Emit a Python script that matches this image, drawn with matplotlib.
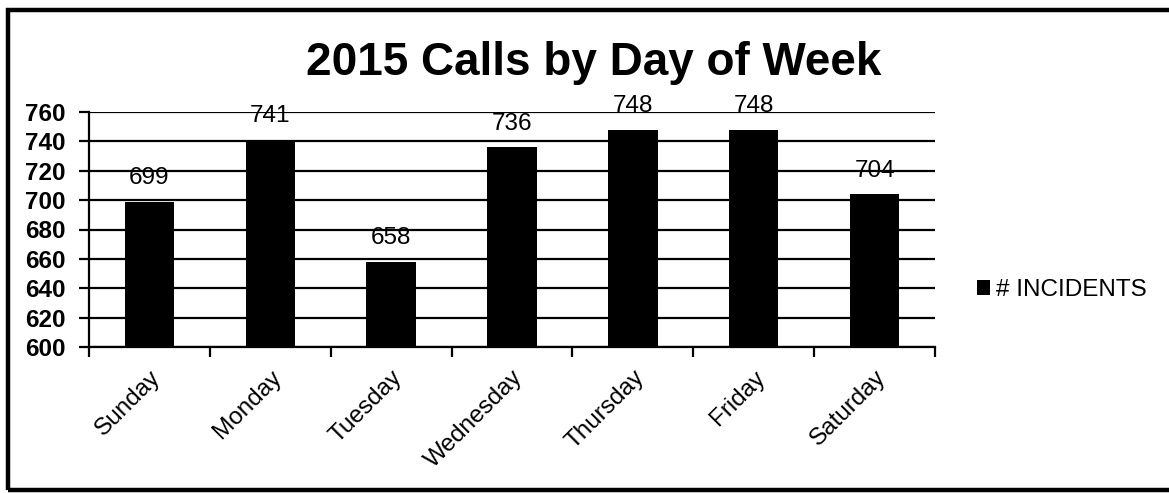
import matplotlib
matplotlib.use("Agg")
import matplotlib.pyplot as plt
from matplotlib.patches import Rectangle, Patch
import numpy as np

days = ["Sunday", "Monday", "Tuesday", "Wednesday", "Thursday", "Friday", "Saturday"]
incidents = [699, 741, 658, 736, 748, 748, 704]
yticks = [600, 620, 640, 660, 680, 700, 720, 740, 760]
title = "2015 Calls by Day of Week"
series_name = "# INCIDENTS"

plt.rcParams['font.family'] = ['Liberation Sans', 'DejaVu Sans']

W, H = 1169, 493
fig = plt.figure(figsize=(W / 100, H / 100), dpi=100)
ax = fig.add_axes([89 / W, 1 - 347 / H, (935 - 89) / W, (347 - 112) / H])

x = np.arange(len(days))
ax.bar(x, [v - 600 for v in incidents], bottom=600, width=0.41, color="black",
       zorder=3, label=series_name)
ax.set_xlim(-0.5, len(days) - 0.5)
ax.set_ylim(600, 760)
ax.set_yticks(yticks)
ax.set_yticklabels([str(t) for t in yticks], fontsize=17.5, fontweight="bold")
ax.yaxis.grid(True, color="black", linewidth=1.6, zorder=1)
ax.set_axisbelow(True)

for xi, v in zip(x, incidents):
    ax.annotate(str(v), (xi, v), xytext=(0, 9), textcoords="offset points",
                ha="center", va="bottom", fontsize=17.5, zorder=4)

ax.set_xticks(np.arange(-0.5, len(days) + 0.5, 1))
ax.set_xticklabels([])
ax.set_xticks(x, minor=True)
ax.set_xticklabels(days, minor=True, rotation=45, ha="right", va="top",
                   rotation_mode="anchor", fontsize=17.5)
ax.tick_params(axis="x", which="minor", length=0, pad=14)
ax.tick_params(axis="x", which="major", length=7, width=1.6, direction="out")
ax.tick_params(axis="y", length=7, width=1.6, direction="out", pad=10)
for s in ["top", "right"]:
    ax.spines[s].set_visible(False)
ax.spines["left"].set_linewidth(1.6)
ax.spines["bottom"].set_linewidth(1.6)

fig.text(594 / W, 1 - 75 / H, title, ha="center", va="baseline",
         fontsize=33, fontweight="bold")

fig.legend(handles=[Patch(facecolor="black", label=series_name)],
           loc="center left", bbox_to_anchor=(977 / W, 1 - 290 / H),
           frameon=False, fontsize=17.5, handlelength=0.55, handleheight=0.55,
           handletextpad=0.25, borderpad=0, borderaxespad=0)

# outer frame
fig.patches.append(Rectangle((8 / W, 1 - 490 / H), (W + 20) / W, (490 - 10) / H,
                             transform=fig.transFigure, fill=False,
                             edgecolor="black", linewidth=3.2, clip_on=False))

fig.savefig("out.png", dpi=100)
